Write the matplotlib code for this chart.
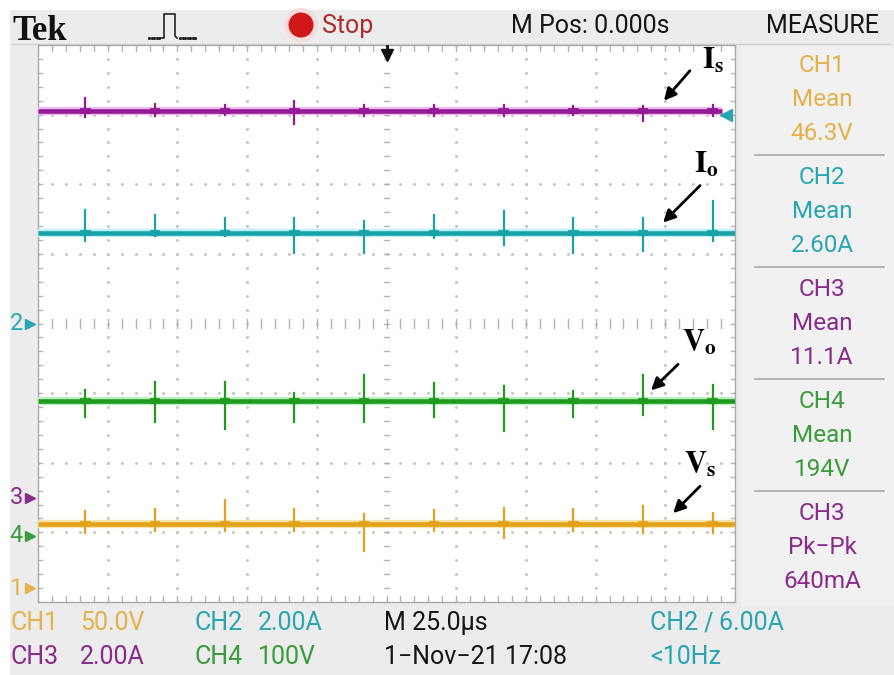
import matplotlib
matplotlib.use("Agg")
import matplotlib.pyplot as plt
from matplotlib.patches import Rectangle, Circle
from matplotlib.transforms import blended_transform_factory

plt.rcParams["font.family"] = ["Roboto", "DejaVu Sans"]
plt.rcParams["mathtext.fontset"] = "stix"

# ---- acquisition settings -------------------------------------------------
channels = ["CH1", "CH2", "CH3", "CH4"]
ch_labels = ["Vs", "Io", "Is", "Vo"]
ch_scale = [50.0, 2.00, 2.00, 100.0]          # units per division
ch_unit = ["V", "A", "A", "V"]
ch_ground_div = [-3.80, 0.00, -2.50, -3.05]   # ground marker position (div)
ch_mean = [46.3, 2.60, 11.1, 194.0]            # measured mean values
ch3_pkpk_mA = 640
time_per_div_us = 25.0
trigger_level_A = 6.00

# switching spikes (time in us from trigger, amplitude in channel units)
spike_times_us = [-108, -83, -58, -33, -8, 17, 42, 67, 92, 117]
vs_spike_up = [9.3, 10.7, 17.1, 10.7, 7.1, 10.0, 11.4, 10.7, 12.9, 7.9]
vs_spike_dn = [6.4, 5.0, 5.0, 5.0, 20.0, 5.0, 10.0, 5.0, 7.1, 6.4]
io_spike_up = [0.66, 0.51, 0.43, 0.43, 0.34, 0.51, 0.63, 0.43, 0.43, 0.91]
io_spike_dn = [0.23, 0.09, 0.09, 0.57, 0.57, 0.14, 0.34, 0.57, 0.51, 0.23]
is_spike_up = [0.37, 0.20, 0.17, 0.29, 0.17, 0.17, 0.17, 0.14, 0.14, 0.17]
is_spike_dn = [0.17, 0.14, 0.11, 0.37, 0.14, 0.14, 0.14, 0.11, 0.29, 0.14]
vo_spike_up = [16, 27, 27, 11, 37, 26, 21, 14, 37, 23]
vo_spike_dn = [24, 31, 40, 31, 31, 24, 43, 24, 20, 41]

spikes_up = [vs_spike_up, io_spike_up, is_spike_up, vo_spike_up]
spikes_dn = [vs_spike_dn, io_spike_dn, is_spike_dn, vo_spike_dn]

trace_colors = ["#e3a21c", "#1aa3a6", "#951a95", "#1f9c1f"]
halo_colors = ["#f8e3a8", "#bdf0f2", "#eebbee", "#bdeebd"]
text_colors = ["#e3b24a", "#2aa6b2", "#8a2a8a", "#3a9c3a"]

BG = "#ececec"
W, H = 894, 675
FS = 18

fig = plt.figure(figsize=(W / 100, H / 100), dpi=100)
fig.patch.set_facecolor("white")

# pixel-space canvas for the instrument frame
bg = fig.add_axes([0, 0, 1, 1])
bg.set_xlim(0, W)
bg.set_ylim(H, 0)
bg.axis("off")
bg.add_patch(Rectangle((10, 10), W - 10, H - 10, facecolor=BG, edgecolor="none"))
bg.add_patch(Rectangle((742, 46), 152, 560, facecolor="#f1f1f1", edgecolor="none"))
bg.plot([12, 890], [44, 44], color="#d0d0d0", lw=1)

# top status line
bg.text(12, 40, "Tek", family=["Liberation Serif", "DejaVu Serif"], weight="bold",
        fontsize=25, color="#111111", va="baseline", ha="left")
# trigger type icon
bg.plot([149, 151.5, 154, 156.5, 159], [38] * 5, ls="none", marker="s", ms=1.1, color="#222222")
bg.plot([161, 164, 164, 175, 175, 177], [38, 38, 14, 14, 36, 38], color="#222222", lw=1.2)
bg.plot([180, 182.5, 185, 187.5, 190, 192.5, 195], [38] * 7, ls="none", marker="s", ms=1.1, color="#222222")
bg.add_patch(Circle((301, 25), 17, facecolor="#f7dcdc", edgecolor="none"))
bg.add_patch(Circle((301, 25), 12.5, facecolor="#d01818", edgecolor="none"))
bg.text(322, 26, "Stop", fontsize=FS, color="#b02a2a", va="center", ha="left")
bg.text(511, 26, "M Pos: 0.000s", fontsize=FS, color="#151515", va="center", ha="left")
bg.text(822, 26, "MEASURE", fontsize=FS, color="#151515", va="center", ha="center")

# measurement panel
meas_rows = [
    ("CH1", "Mean", f"{ch_mean[0]:.1f}{ch_unit[0]}", text_colors[0]),
    ("CH2", "Mean", f"{ch_mean[1]:.2f}{ch_unit[1]}", text_colors[1]),
    ("CH3", "Mean", f"{ch_mean[2]:.1f}{ch_unit[2]}", text_colors[2]),
    ("CH4", "Mean", f"{ch_mean[3]:.0f}{ch_unit[3]}", text_colors[3]),
    ("CH3", "Pk\u2212Pk", f"{ch3_pkpk_mA}mA", text_colors[2]),
]
for i, (a, b, c, col) in enumerate(meas_rows):
    y0 = 66 + i * 112
    for j, s in enumerate((a, b, c)):
        bg.text(822, y0 + j * 34, s, fontsize=FS - 0.5, color=col, ha="center", va="center")
    if i < 4:
        bg.plot([755, 884], [y0 + 89, y0 + 89], color="#a8a8a8", lw=1.2)

# bottom status lines
def ch_text(ch):
    i = channels.index(ch)
    v = ch_scale[i]
    return f"{v:.2f}{ch_unit[i]}" if v < 10 else (f"{v:.1f}{ch_unit[i]}" if v < 100 else f"{v:.0f}{ch_unit[i]}")

row1, row2 = 623, 657
bg.text(10, row1, "CH1", fontsize=FS, color=text_colors[0], va="center")
bg.text(80, row1, ch_text("CH1"), fontsize=FS, color=text_colors[0], va="center")
bg.text(195, row1, "CH2", fontsize=FS, color=text_colors[1], va="center")
bg.text(258, row1, ch_text("CH2"), fontsize=FS, color=text_colors[1], va="center")
bg.text(384, row1, f"M {time_per_div_us:.1f}\u00b5s", fontsize=FS, color="#151515", va="center")
bg.text(650, row1, f"CH2 \u2215 {trigger_level_A:.2f}A", fontsize=FS, color=text_colors[1], va="center")
bg.text(10, row2, "CH3", fontsize=FS, color=text_colors[2], va="center")
bg.text(80, row2, ch_text("CH3"), fontsize=FS, color=text_colors[2], va="center")
bg.text(195, row2, "CH4", fontsize=FS, color=text_colors[3], va="center")
bg.text(258, row2, ch_text("CH4"), fontsize=FS, color=text_colors[3], va="center")
bg.text(384, row2, "1\u2212Nov\u221221 17:08", fontsize=FS, color="#151515", va="center")
bg.text(650, row2, "<10Hz", fontsize=FS, color=text_colors[1], va="center")

# ---- graticule -----------------------------------------------------------
ax = fig.add_axes([38 / W, (H - 602) / H, 697 / W, 557 / H])
ax.set_facecolor("white")
t0, t1 = -5 * time_per_div_us, 5 * time_per_div_us
ax.set_xlim(t0, t1)
ax.set_ylim(-4, 4)
ax.set_xticks([])
ax.set_yticks([])
for s in ax.spines.values():
    s.set_color("#a9a9a9")
    s.set_linewidth(1.0)

grid_col = "#c4c4c4"
minor_t = [t0 + k * time_per_div_us / 5 for k in range(51)]
minor_y = [-4 + k * 0.2 for k in range(41)]
for k in range(1, 10):
    x = t0 + k * time_per_div_us
    if k != 5:
        ax.plot([x] * len(minor_y), minor_y, ls="none", marker="s", ms=1.0, color=grid_col)
for k in range(1, 8):
    y = -4 + k
    if k != 4:
        ax.plot(minor_t, [y] * len(minor_t), ls="none", marker="s", ms=1.0, color=grid_col)
tick_col = "#b4b4b4"
for x in minor_t:
    ax.plot([x, x], [-0.06, 0.06], color=tick_col, lw=1)
    ax.plot([x, x], [4, 3.92], color=tick_col, lw=1)
    ax.plot([x, x], [-4, -3.92], color=tick_col, lw=1)
for y in minor_y:
    ax.plot([-1.0, 1.0], [y, y], color=tick_col, lw=1)
    ax.plot([t0, t0 + 1.6], [y, y], color=tick_col, lw=1)
    ax.plot([t1, t1 - 1.6], [y, y], color=tick_col, lw=1)

# ---- waveforms -------------------------------------------------------------
draw_order = [2, 1, 3, 0]
levels = {}
for i in draw_order:
    lvl = ch_ground_div[i] + ch_mean[i] / ch_scale[i]
    levels[i] = lvl
    t_end = 120.5 if i == 2 else t1
    ax.plot([t0, t_end], [lvl, lvl], color=halo_colors[i], lw=6.0, solid_capstyle="butt", zorder=3)
    ax.plot([t0, t_end], [lvl, lvl], color=trace_colors[i], lw=3.3, solid_capstyle="butt", zorder=4)
    for t, up, dn in zip(spike_times_us, spikes_up[i], spikes_dn[i]):
        ax.plot([t, t], [lvl - dn / ch_scale[i], lvl + up / ch_scale[i]],
                color=trace_colors[i], lw=1.6, zorder=4)
        ax.plot([t - 0.8, t + 0.8], [lvl, lvl], color=trace_colors[i], lw=4.2, zorder=4)

# trigger position and level markers
ax.plot([0], [3.86], marker="v", ms=8, color="#111111", clip_on=False, zorder=6)
ax.plot([0, 0], [3.86, 3.98], color="#111111", lw=2, clip_on=False, zorder=6)
ax.plot([t1 - 3.2], [trigger_level_A / ch_scale[1] + ch_ground_div[1]], marker="<", ms=8,
        color=text_colors[1], zorder=6)

# ground markers at the left edge
tr = blended_transform_factory(ax.transAxes, ax.transData)
for i in range(4):
    ax.text(-0.041, ch_ground_div[i], channels[i][-1], transform=tr, fontsize=17,
            color=text_colors[i], ha="left", va="center", clip_on=False)
    ax.plot([-0.012], [ch_ground_div[i]], transform=tr, marker=">", ms=7,
            color=text_colors[i], clip_on=False)

# ---- signal annotations ----------------------------------------------------
ann = {
    2: (r"$\mathbf{I}_{\mathbf{s}}$", 99.5, (26, 30), (38, 32)),
    1: (r"$\mathbf{I}_{\mathbf{o}}$", 99.2, (37, 37), (31, 50)),
    3: (r"$\mathbf{V}_{\mathbf{o}}$", 94.9, (27, 26), (31, 40)),
    0: (r"$\mathbf{V}_{\mathbf{s}}$", 102.8, (27, 27), (11, 40)),
}
for i, (lab, t_tip, (dx, dy), (tx, ty)) in ann.items():
    tip = (t_tip, levels[i] + 0.15)
    ax.annotate("", xy=tip, xytext=(dx, dy), textcoords="offset pixels",
                arrowprops=dict(arrowstyle="-|>", color="black", lw=2.0,
                                mutation_scale=18, shrinkA=0, shrinkB=0), zorder=7)
    ax.annotate(lab, xy=tip, xytext=(tx, ty), textcoords="offset pixels",
                fontsize=22, color="black", ha="left", va="baseline", zorder=7)

fig.savefig("out.png", dpi=100, facecolor=fig.get_facecolor())
